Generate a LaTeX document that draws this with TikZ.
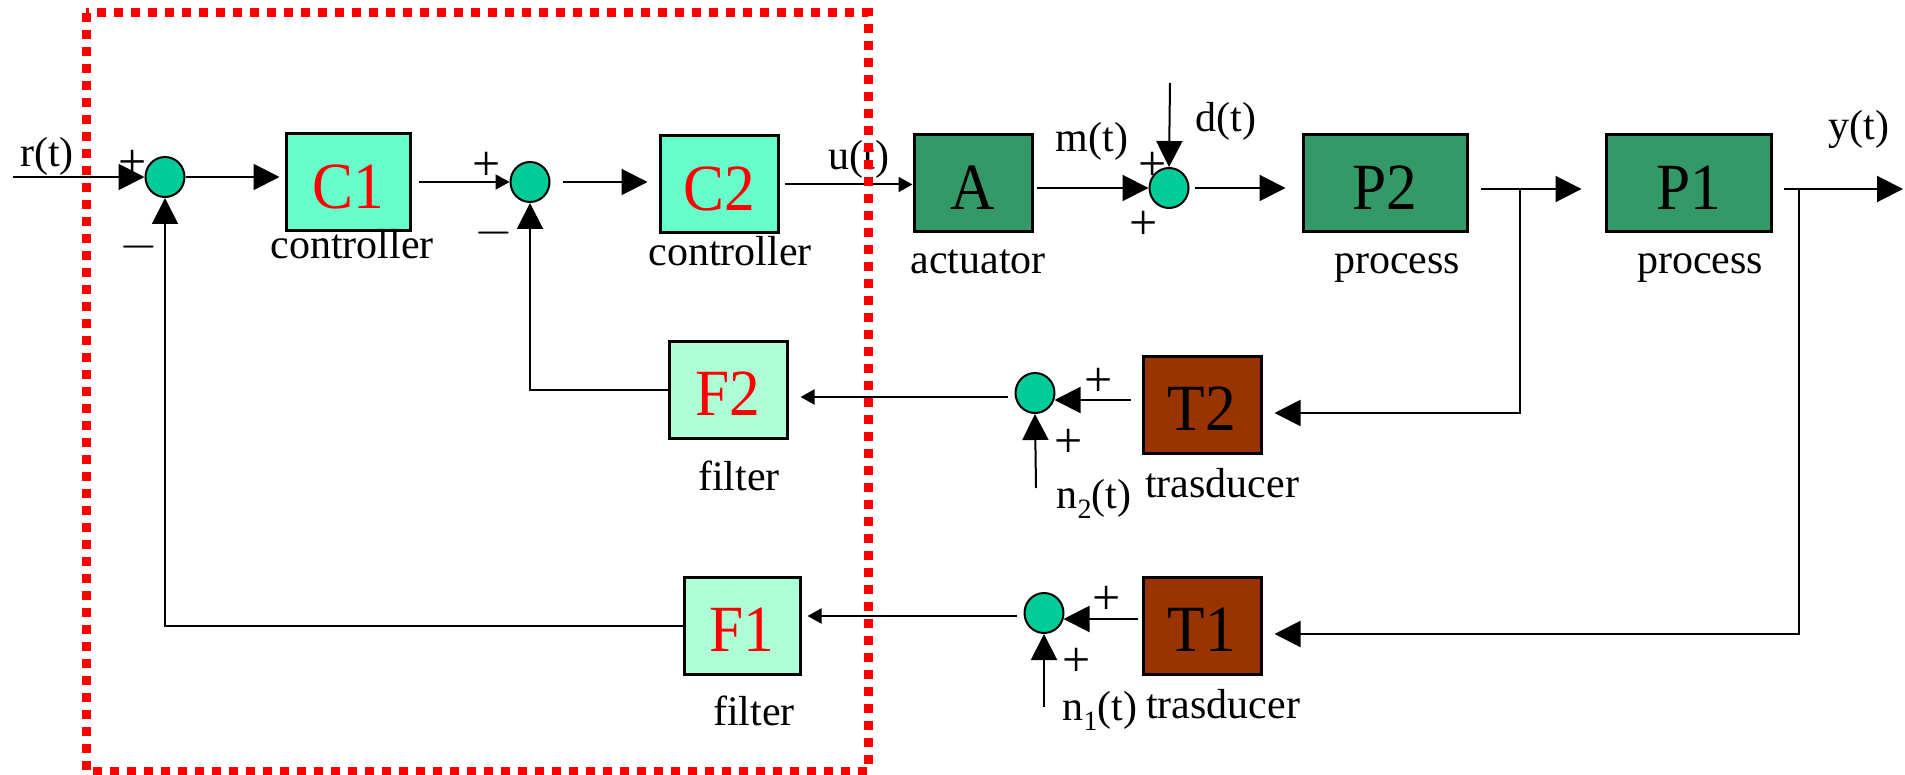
\documentclass[tikz,border=0pt]{standalone}
\usepackage{graphicx}
\usepackage{fontspec}
\setmainfont{Liberation Serif}
\usetikzlibrary{arrows.meta,shapes.geometric,calc}

\definecolor{ctrlfill}{HTML}{66FFCC}
\definecolor{plantfill}{HTML}{339966}
\definecolor{sensfill}{HTML}{993300}
\definecolor{filtfill}{HTML}{ADFFD6}
\definecolor{sumfill}{HTML}{00CC99}

% slightly condensed lettering inside the blocks
\newcommand\blocktext[1]{\scalebox{0.93}[1]{#1}}

\begin{document}
\begin{tikzpicture}[x=0.5pt,y=-0.5pt,
  blk/.style={draw=black, line width=1.5pt, inner sep=0pt,
    minimum width=59pt, minimum height=48.5pt,
    text height=26pt, text depth=0pt,
    font=\fontsize{33}{36}\selectfont},
  ctrl/.style={blk, fill=ctrlfill, text=red},
  plant/.style={blk, fill=plantfill, text=black},
  sens/.style={blk, fill=sensfill, text=black},
  filt/.style={blk, fill=filtfill, text=red},
  sum/.style={ellipse, draw=black, line width=1pt, fill=sumfill, inner sep=0pt,
    minimum width=19.5pt, minimum height=20pt},
  wire/.style={line width=1pt},
  big/.style={wire, -{Triangle[length=13pt,width=13pt]}},
  small/.style={wire, -{Triangle[length=7pt,width=7.5pt]}},
  lbl/.style={anchor=base, inner sep=0pt, font=\fontsize{21}{24}\selectfont},
  sgn/.style={anchor=center, inner sep=0pt, font=\fontsize{25}{28}\selectfont},
  zone/.style={draw=red, line width=4.5pt, dash pattern=on 4.5pt off 4pt},
]
\useasboundingbox (0,0) rectangle (1905,775);

% forward path
\node[sum] (S1) at (165,177) {};
\node[ctrl, minimum width=62pt] (C1) at (348,182.5) {\blocktext{C1}};
\node[sum] (S2) at (530,182) {};
\node[ctrl] (C2) at (719,184.5) {\blocktext{C2}};
\node[plant] (A) at (973,183.5) {\blocktext{A}};
\node[sum] (S3) at (1169,188) {};
\node[plant, minimum width=82pt] (P2) at (1385,183.5) {\blocktext{P2}};
\node[plant, minimum width=82.5pt] (P1) at (1688.5,183.5) {\blocktext{P1}};

% inner feedback path
\node[sens] (T2) at (1202,404.5) {\blocktext{T2}};
\node[sum] (S4) at (1035,393) {};
\node[filt] (F2) at (728,389.5) {\blocktext{F2}};

% outer feedback path
\node[sens] (T1) at (1202,625.5) {\blocktext{T1}};
\node[sum] (S5) at (1044,613) {};
\node[filt, minimum width=58pt] (F1) at (742,625.5) {\blocktext{F1}};

% free ends and branch points
\coordinate (rin) at (13,177);
\coordinate (dtop) at (1170,83);
\coordinate (b2) at (1520,189);
\coordinate (b1) at (1799,189);
\coordinate (yout) at (1903,189);
\coordinate (n2) at (1036,488);
\coordinate (n1) at (1044,707);
\coordinate (s4r) at ($(S4.east)+(-1,7)$);
\coordinate (s4l) at ($(S4.west)+(0,4)$);
\coordinate (s5r) at ($(S5.east)+(-1,6)$);
\coordinate (s5l) at ($(S5.west)+(0,3)$);

% forward connectors
\draw[big] (rin) -- (S1.west);
\draw[big, shorten >=2.5pt] (S1.east) -- (S1.east -| C1.west);
\draw[small, shorten <=3.5pt] (C1.east |- S2.west) -- (S2.west);
\draw[big, shorten <=6pt, shorten >=5.5pt] (S2.east) -- (S2.east -| C2.west);
\draw[small, shorten <=2.5pt] (C2.east) -- (C2.east -| A.west);
\draw[big, shorten <=1.5pt] (A.east |- S3.west) -- (S3.west);
\draw[big] (dtop) -- (S3.north);
\draw[big, shorten <=2.5pt, shorten >=8pt] (S3.east) -- (S3.east -| P2.west);
\draw[big, shorten <=6pt, shorten >=11.5pt] (P2.east |- b2) -- (P1.west |- b2);
\draw[big, shorten <=5.5pt] (P1.east |- b1) -- (yout);

% feedback connectors
\draw[big, shorten >=6pt] (b2) |- ($(T2.east)+(0,8.5)$);
\draw[big, shorten <=5.5pt] (T2.west |- s4r) -- (s4r);
\draw[big] (n2) -- (S4.south);
\draw[small, shorten <=3.5pt, shorten >=6pt] (s4l) -- (F2.east |- s4l);
\draw[big] (F2.west) -| (S2.south);

\draw[big, shorten >=6pt] (b1) |- ($(T1.east)+(0,8.5)$);
\draw[big, shorten <=2pt] (T1.west |- s5r) -- (s5r);
\draw[big] (n1) -- (S5.south);
\draw[small, shorten <=3.5pt, shorten >=3pt] (s5l) -- (F1.east |- s5l);
\draw[big] (F1.west) -| (S1.south);

% signal labels
\node[lbl] (lr) at (47,167) {r(t)};
\node[lbl] (lu) at (859,170) {u(t)};
\node[lbl] (lm) at (1092,152) {m(t)};
\node[lbl] (ld) at (1226,132) {d(t)};
\node[lbl] (ly) at (1859,140) {y(t)};
\node[lbl] (ln2) at (1094,508) {n\raisebox{-5pt}{\fontsize{14}{16}\selectfont 2}(t)};
\node[lbl] (ln1) at (1100,720) {n\raisebox{-5pt}{\fontsize{14}{16}\selectfont 1}(t)};

% block captions
\node[lbl] (cc1) at (352,258) {controller};
\node[lbl] (cc2) at (730,265) {controller};
\node[lbl] (ca) at (978,273) {actuator};
\node[lbl] (cp2) at (1397,273) {process};
\node[lbl] (cp1) at (1700,273) {process};
\node[lbl] (ct2) at (1222,497) {trasducer};
\node[lbl] (ct1) at (1223,718) {trasducer};
\node[lbl] (cf2) at (739,490) {filter};
\node[lbl] (cf1) at (754,725) {filter};

% summing-junction signs
\node[sgn] (g1a) at (133,164) {+};
\node[sgn] (g1b) at (139,247) {$-$};
\node[sgn] (g2a) at (487,166) {+};
\node[sgn] (g2b) at (494,233) {$-$};
\node[sgn] (g3a) at (1153,166) {+};
\node[sgn] (g3b) at (1144,225) {+};
\node[sgn] (g4a) at (1099,382) {+};
\node[sgn] (g4b) at (1069,443) {+};
\node[sgn] (g5a) at (1107,600) {+};
\node[sgn] (g5b) at (1077,662) {+};

% boundary of the digital controller part
\draw[zone] (86,13) rectangle (868,771);
\end{tikzpicture}
\end{document}
